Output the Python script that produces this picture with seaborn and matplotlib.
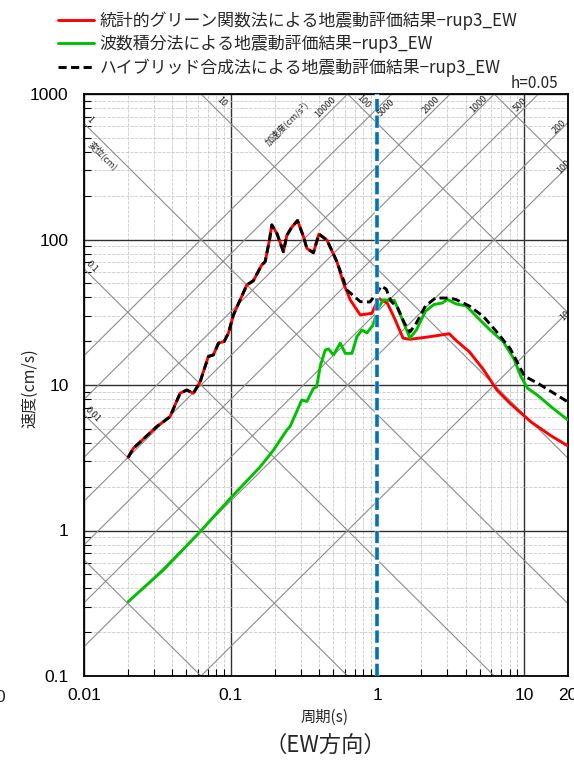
import numpy as np
import pandas as pd
import matplotlib
matplotlib.use('Agg')
import matplotlib.pyplot as plt
from matplotlib.ticker import NullFormatter
import seaborn as sns

# pseudo velocity response spectra, h=0.05, rup3 EW
# period (s) / velocity (cm/s)
sgf_T = [0.020, 0.0217, 0.0313, 0.0386, 0.0452, 0.0502, 0.0557, 0.0619, 0.0705, 0.0763,
         0.0826, 0.0903, 0.0966, 0.1045, 0.116, 0.129, 0.143, 0.163, 0.172, 0.184,
         0.191, 0.207, 0.229, 0.242, 0.262, 0.286, 0.314, 0.331, 0.367, 0.400,
         0.454, 0.531, 0.589, 0.655, 0.766, 0.920, 1.02, 1.08, 1.17, 1.31,
         1.50, 1.67, 2.23, 3.10, 3.44, 4.25, 5.29, 6.55, 8.09, 11.2, 15.4, 20.0]
sgf_V = [3.18, 3.67, 5.17, 6.05, 8.77, 9.24, 8.77, 10.5, 15.7, 16.1,
         19.4, 19.9, 22.7, 30.3, 38.4, 48.7, 52.1, 66.8, 70.4, 99,
         126, 110, 82.4, 107, 122, 135, 104.5, 87, 81, 109,
         99, 70.4, 50, 38.4, 30.3, 31.1, 39.5, 38.1, 36.6, 28.8,
         21.0, 20.6, 21.4, 22.5, 20.3, 16.9, 12.8, 9.24, 7.45, 5.57, 4.46, 3.81]

wni_T = [0.020, 0.0348, 0.0619, 0.0993, 0.159, 0.196, 0.242, 0.254, 0.306, 0.331,
         0.367, 0.386, 0.408, 0.442, 0.465, 0.503, 0.559, 0.605, 0.672, 0.727,
         0.787, 0.851, 0.935, 1.02, 1.10, 1.31, 1.50, 1.67, 1.85, 2.13,
         2.43, 2.78, 3.01, 3.44, 4.05, 4.75, 5.88, 7.24, 8.56, 9.52,
         10.6, 12.4, 15.4, 20.0]
wni_V = [0.324, 0.535, 0.98, 1.66, 2.74, 3.57, 4.91, 5.17, 7.89, 7.7,
         9.48, 9.7, 13.4, 17.4, 17.7, 16.1, 19.4, 16.5, 16.5, 21.5,
         23.9, 22.8, 25.8, 34.0, 38.5, 38.1, 27.4, 21.0, 23.9, 32.1,
         35.7, 36.6, 38.7, 36.1, 34.9, 29.6, 23.9, 19.8, 15.1, 11.5,
         9.5, 8.5, 7.06, 5.74]

hyb_T = [0.020, 0.0217, 0.0313, 0.0386, 0.0452, 0.0502, 0.0557, 0.0619, 0.0705, 0.0763,
         0.0826, 0.0903, 0.0966, 0.1045, 0.116, 0.129, 0.143, 0.163, 0.172, 0.184,
         0.191, 0.207, 0.229, 0.242, 0.262, 0.286, 0.314, 0.331, 0.367, 0.400,
         0.454, 0.531, 0.589, 0.62, 0.766, 0.89, 1.0, 1.06, 1.15, 1.24,
         1.38, 1.53, 1.67, 1.85, 2.13, 2.49, 3.10, 3.44, 4.25, 5.29,
         6.55, 8.09, 10.1, 12.4, 15.4, 20.0]
hyb_V = [3.18, 3.67, 5.17, 6.05, 8.77, 9.24, 8.77, 10.5, 15.7, 16.1,
         19.4, 19.9, 22.7, 30.3, 38.4, 48.7, 52.1, 66.8, 70.4, 99,
         126, 110, 82.4, 107, 122, 135, 104.5, 87, 81, 109,
         99, 70.4, 52.6, 45, 37.4, 37.2, 43, 47.9, 45.7, 37.8,
         33.8, 26.7, 23.1, 26.7, 34.9, 39.6, 39.6, 38.7, 34.9, 29.6,
         23.1, 17.7, 11.5, 10.3, 9.0, 7.64]

series_labels = ['統計的グリーン関数法による地震動評価結果−rup3_EW',
                 '波数積分法による地震動評価結果−rup3_EW',
                 'ハイブリッド合成法による地震動評価結果−rup3_EW']

# tripartite guide lines
disp_levels = [0.001, 0.01, 0.1, 1, 10, 100, 1000]          # cm
acc_levels = [10, 100, 200, 500, 1000, 2000, 5000, 10000]   # cm/s2

x_ticks = [0.01, 0.1, 1, 10, 20]
x_ticklabels = ['0.01', '0.1', '1', '10', '20']
y_ticks = [0.1, 1, 10, 100, 1000]
y_ticklabels = ['0.1', '1', '10', '100', '1000']

sns.set_theme(style='white')
plt.rcParams['font.family'] = ['Noto Sans CJK JP', 'DejaVu Sans']

W, H = 574, 761


def fx(px):
    return px / W


def fy(py):
    return 1 - py / H


fig = plt.figure(figsize=(W / 100, H / 100), dpi=100)
ax = fig.add_axes([fx(84), fy(676), (568 - 84) / W, (676 - 94) / H])
ax.set_xscale('log')
ax.set_yscale('log')

T_line = np.array([0.005, 40.0])
for d in disp_levels:
    ax.plot(T_line, 2 * np.pi * d / T_line, color='#8c8c8c', lw=0.8, zorder=1)
for a in acc_levels:
    ax.plot(T_line, a * T_line / (2 * np.pi), color='#8c8c8c', lw=0.8, zorder=1)

ax.set_xlim(0.01, 20)
ax.set_ylim(0.1, 1000)

ax.grid(which='minor', color='#cacaca', lw=0.6, ls=(0, (4, 1.5)), zorder=0)
ax.grid(which='major', color='#303030', lw=1.0, zorder=0)

sgf = pd.DataFrame({'T': sgf_T, 'V': sgf_V})
wni = pd.DataFrame({'T': wni_T, 'V': wni_V})
hyb = pd.DataFrame({'T': hyb_T, 'V': hyb_V})

sns.lineplot(data=sgf, x='T', y='V', ax=ax, color='#ff0000', lw=2.1, estimator=None,
             sort=False, label=series_labels[0], zorder=4)
sns.lineplot(data=wni, x='T', y='V', ax=ax, color='#00c000', lw=2.1, estimator=None,
             sort=False, label=series_labels[1], zorder=4)
sns.lineplot(data=hyb, x='T', y='V', ax=ax, color='black', lw=2.1, estimator=None,
             sort=False, label=series_labels[2], zorder=5)
ax.lines[-1].set_dashes((2.8, 1.5))

# T = 1 s marker
ax.axvline(1, color='white', lw=3.2, zorder=6)
ax.axvline(1, color='#0070c0', lw=2.6, ls=(0, (3.4, 1.2)), zorder=7)

ax.set_xticks(x_ticks, x_ticklabels)
ax.set_yticks(y_ticks, y_ticklabels)
ax.xaxis.set_minor_formatter(NullFormatter())
ax.yaxis.set_minor_formatter(NullFormatter())
ax.tick_params(which='major', length=0, labelsize=12.5, colors='black')
ax.tick_params(axis='x', which='major', pad=9)
ax.tick_params(axis='y', which='major', pad=11)
ax.tick_params(which='minor', direction='in', length=5, width=0.8, color='black',
               bottom=True, left=True)
for lab in ax.get_xticklabels() + ax.get_yticklabels():
    lab.set_family('Liberation Sans')
for sp in ax.spines.values():
    sp.set_color('black')
    sp.set_linewidth(1.3)

ax.set_xlabel('')
ax.set_ylabel('')
fig.text(fx(325), fy(717), '周期(s)', ha='center', va='center', fontsize=11)
fig.text(fx(30), fy(388), '速度(cm/s)', ha='center', va='center', fontsize=11.5,
         rotation=90)
fig.text(fx(325), fy(745), '（EW方向）', ha='center', va='center', fontsize=16)
fig.text(fx(558), fy(83), 'h=0.05', ha='right', va='center', fontsize=11)
fig.text(fx(5), fy(697), '0', ha='right', va='center', fontsize=12.5, family='Liberation Sans')

# guide line labels
guide_labels = [
    ('1', 90, 120, -45), ('変位(cm)', 103, 156, -45), ('0.1', 92, 267, -45),
    ('0.01', 93, 415, -45), ('10', 222, 102, -45), ('100', 363, 102, -45),
    ('加速度(cm/s²)', 287, 123, 45), ('10000', 325, 107, 45), ('5000', 386, 108, 45),
    ('2000', 431, 105, 45), ('1000', 479, 104, 45), ('500', 520, 105, 45),
    ('200', 559, 127, 45), ('100', 564, 167, 45), ('10', 565, 316, 45),
]
for txt, px, py, rot in guide_labels:
    fig.text(fx(px), fy(py), txt, ha='center', va='center', fontsize=6.5, rotation=rot,
             rotation_mode='anchor', color='#202020')

ax.legend(loc='upper left', bbox_to_anchor=(fx(58), fy(11)), bbox_transform=fig.transFigure,
          frameon=False, fontsize=12.2, handlelength=2.15, handletextpad=0.3,
          labelspacing=0.34, borderpad=0, borderaxespad=0)

plt.savefig('out.png', dpi=100)
